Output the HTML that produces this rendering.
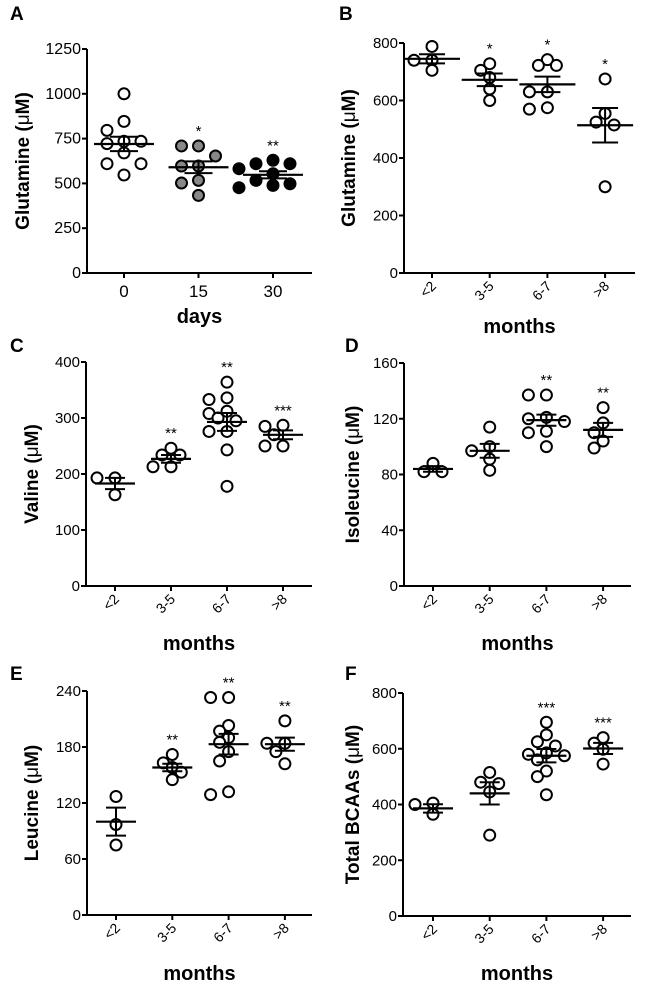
<!DOCTYPE html>
<html><head><meta charset="utf-8">
<style>
html,body{margin:0;padding:0;background:#fff;}
svg{display:block;font-family:"Liberation Sans",Arial,sans-serif;}
</style></head>
<body>
<svg id="fig" width="650" height="993" viewBox="0 0 650 993" xmlns="http://www.w3.org/2000/svg"></svg>
<script>
// ---- Panel A data ----
const catsA = ["0","15","30"];
const valsA = [
  [1000,846,796,735,735,722,670,610,610,547],
  [709,709,653,597,597,517,502,433],
  [629,610,610,582,554,517,498,489,476]
];
const meanA = [720,590,548];
const semA = [40,33,20];
const starsA = ["","*","**"];
const ticksA = [0,250,500,750,1000,1250];
// ---- Panel B data ----
const catsM = ["<2","3-5","6-7",">8"];
const valsB = [
  [788,740,740,705],
  [728,705,680,640,600],
  [742,722,722,630,630,575,570],
  [675,555,525,515,300]
];
const meanB = [745,672,656,514];
const semB = [16,22,27,60];
const starsB = ["","*","*","*"];
const ticksB = [0,200,400,600,800];
// ---- Panel C data ----
const valsC = [
  [193,193,163],
  [246,234,234,213,213],
  [364,336,333,312,308,300,295,276,276,243,178],
  [287,285,270,250,250]
];
const meanC = [183,227,293,270];
const semC = [10,7,16,8];
const starsC = ["","**","**","***"];
const ticksC = [0,100,200,300,400];
// ---- Panel D data ----
const valsD = [
  [88,82,82],
  [114,100,97,91,83],
  [137,137,121,120,118,111,110,100],
  [128,117,110,104,99]
];
const meanD = [84,97,119,112];
const semD = [2,5,4,5];
const starsD = ["","","**","**"];
const ticksD = [0,40,80,120,160];
// ---- Panel E data ----
const valsE = [
  [127,97,75],
  [172,163,158,153,145],
  [233,233,203,197,190,185,175,165,132,129],
  [208,184,184,175,162]
];
const meanE = [100,158,183,183];
const semE = [15,4,11,7];
const starsE = ["","**","**","**"];
const ticksE = [0,60,120,180,240];
// ---- Panel F data ----
const valsF = [
  [405,400,365],
  [515,480,475,445,290],
  [695,650,625,610,585,580,575,560,520,500,435],
  [640,620,598,545]
];
const meanF = [386,440,575,601];
const semF = [15,40,24,20];
const starsF = ["","","***","***"];
const ticksF = [0,200,400,600,800];

const NS = "http://www.w3.org/2000/svg";
const svg = document.getElementById("fig");
function mk(tag, attrs, parent, text){
  const e = document.createElementNS(NS, tag);
  for (const k in attrs) e.setAttribute(k, attrs[k]);
  if (text !== undefined) e.textContent = text;
  (parent || svg).appendChild(e);
  return e;
}

function panel(cfg){
  const g = mk("g", {});
  
  
  const ymax = cfg.ticks[cfg.ticks.length-1];
  const yS = v => cfg.y0 - (v/ymax)*(cfg.y0 - cfg.yTop);
  const xS = i => cfg.cx0 + i*cfg.step;

  const lt = mk("text", {x: cfg.lx, y: cfg.ly, "font-size": 19, "font-weight": "bold"}, g, cfg.letter);
  
  

  const ya = mk("line", {x1: cfg.x0, y1: cfg.yTop, x2: cfg.x0, y2: cfg.y0+1, stroke: "#000", "stroke-width": 2}, g);
  
  
  const xa = mk("line", {x1: cfg.x0-1, y1: cfg.y0, x2: cfg.right, y2: cfg.y0, stroke: "#000", "stroke-width": 2}, g);
  
  

  cfg.ticks.forEach(t => {
    const y = yS(t);
    mk("line", {x1: cfg.x0-5, y1: y, x2: cfg.x0, y2: y, stroke: "#000", "stroke-width": 2}, g);
    const tl = mk("text", {x: cfg.x0-6, y: y+5, "font-size": cfg.tfs || 15, "text-anchor": "end"}, g, String(t));
    
    
  });

  cfg.cats.forEach((c, i) => {
    const x = xS(i);
    mk("line", {x1: x, y1: cfg.y0, x2: x, y2: cfg.y0+5, stroke: "#000", "stroke-width": 2}, g);
    let tl;
    if (cfg.rot) {
      tl = mk("text", {x: x+5, y: cfg.y0+14, "font-size": 14, "text-anchor": "end",
        transform: `rotate(-45 ${x+5} ${cfg.y0+14})`}, g, c);
    } else {
      tl = mk("text", {x: x, y: cfg.y0+24, "font-size": 17, "text-anchor": "middle"}, g, c);
    }
    
    
  });

  const xt = mk("text", {x: (cfg.x0+cfg.right)/2, y: cfg.xty, "font-size": 20, "font-weight": "bold", "text-anchor": "middle"}, g, cfg.xTitle);
  
  
  const ymid = (cfg.y0 + cfg.yTop)/2;
  const yt = mk("text", {x: cfg.ytx, y: ymid, "font-size": 19, "font-weight": "bold", "text-anchor": "middle",
    transform: `rotate(-90 ${cfg.ytx} ${ymid})`}, g);
  
  
  mk("tspan", {}, yt, cfg.yTitle + " (");
  mk("tspan", {"font-weight": "normal"}, yt, "\u03BC");
  mk("tspan", {}, yt, "M)");

  const os = cfg.ostep;
  cfg.vals.forEach((arr, i) => {
    const cx = xS(i);
    const ys = arr.map(yS);
    const placed = [];
    arr.forEach((v, j) => {
      const y = ys[j];
      const offs = [0, -os, os, -2*os, 2*os];
      let best = cx, bestD = -1;
      for (const o of offs) {
        const d = placed.length ? Math.min(...placed.map(p => Math.hypot(p[0]-(cx+o), p[1]-y))) : 999;
        if (d >= cfg.minD) { best = cx + o; bestD = d; break; }
        if (d > bestD) { bestD = d; best = cx + o; }
      }
      placed.push([best, y]);
      const fill = cfg.fills ? cfg.fills[i] : "#fff";
      const c = mk("circle", {cx: best, cy: y, r: 5.5, fill: fill, stroke: "#000", "stroke-width": 2}, g);
      
      
    });
    const my = yS(cfg.mean[i]);
    const ml = mk("line", {x1: cx-cfg.mw, y1: my, x2: cx+cfg.mw, y2: my, stroke: "#000", "stroke-width": 2.2}, g);
    
    
    const hi = yS(cfg.mean[i]+cfg.sem[i]), lo = yS(cfg.mean[i]-cfg.sem[i]);
    const eb = mk("path", {d: `M${cx},${hi}V${lo}M${cx-cfg.cw},${hi}H${cx+cfg.cw}M${cx-cfg.cw},${lo}H${cx+cfg.cw}`,
      stroke: "#000", "stroke-width": 2, fill: "none"}, g);
    
    
    if (cfg.stars[i]) {
      const top = Math.min(...ys);
      const st = mk("text", {x: cx, y: top - 10, "font-size": 15, "text-anchor": "middle"}, g, cfg.stars[i]);
      
      
    }
  });
}

panel({letter:"A", lx:10, ly:20, x0:87, y0:273, yTop:49, right:312, cx0:124, step:74.5, cats:catsA,
  vals:valsA, mean:meanA, sem:semA, stars:starsA, ticks:ticksA, rot:false, xTitle:"days", xty:323,
  yTitle:"Glutamine", ytx:29, mw:30, cw:14, fills:["#fff","#888","#000"], ostep:17, minD:11, tfs:16});
panel({letter:"B", lx:339, ly:20, x0:404, y0:273, yTop:43, right:635, cx0:432, step:57.7, cats:catsM,
  vals:valsB, mean:meanB, sem:semB, stars:starsB, ticks:ticksB, rot:true, xTitle:"months", xty:333,
  yTitle:"Glutamine", ytx:355, mw:28, cw:13, ostep:9, minD:10});
panel({letter:"C", lx:10, ly:352, x0:86, y0:586, yTop:362, right:312, cx0:115, step:56, cats:catsM,
  vals:valsC, mean:meanC, sem:semC, stars:starsC, ticks:ticksC, rot:true, xTitle:"months", xty:650,
  yTitle:"Valine", ytx:38, mw:20, cw:10, ostep:9, minD:10});
panel({letter:"D", lx:345, ly:352, x0:404, y0:586, yTop:363, right:631, cx0:433, step:56.7, cats:catsM,
  vals:valsD, mean:meanD, sem:semD, stars:starsD, ticks:ticksD, rot:true, xTitle:"months", xty:650,
  yTitle:"Isoleucine", ytx:359, mw:20, cw:10, ostep:9, minD:10});
panel({letter:"E", lx:10, ly:680, x0:87, y0:915, yTop:691, right:312, cx0:116, step:56.3, cats:catsM,
  vals:valsE, mean:meanE, sem:semE, stars:starsE, ticks:ticksE, rot:true, xTitle:"months", xty:980,
  yTitle:"Leucine", ytx:38, mw:20, cw:10, ostep:9, minD:10});
panel({letter:"F", lx:345, ly:680, x0:403, y0:916, yTop:693, right:631, cx0:433, step:56.7, cats:catsM,
  vals:valsF, mean:meanF, sem:semF, stars:starsF, ticks:ticksF, rot:true, xTitle:"months", xty:980,
  yTitle:"Total BCAAs", ytx:359, mw:20, cw:10, ostep:9, minD:10});
</script>
</body></html>
